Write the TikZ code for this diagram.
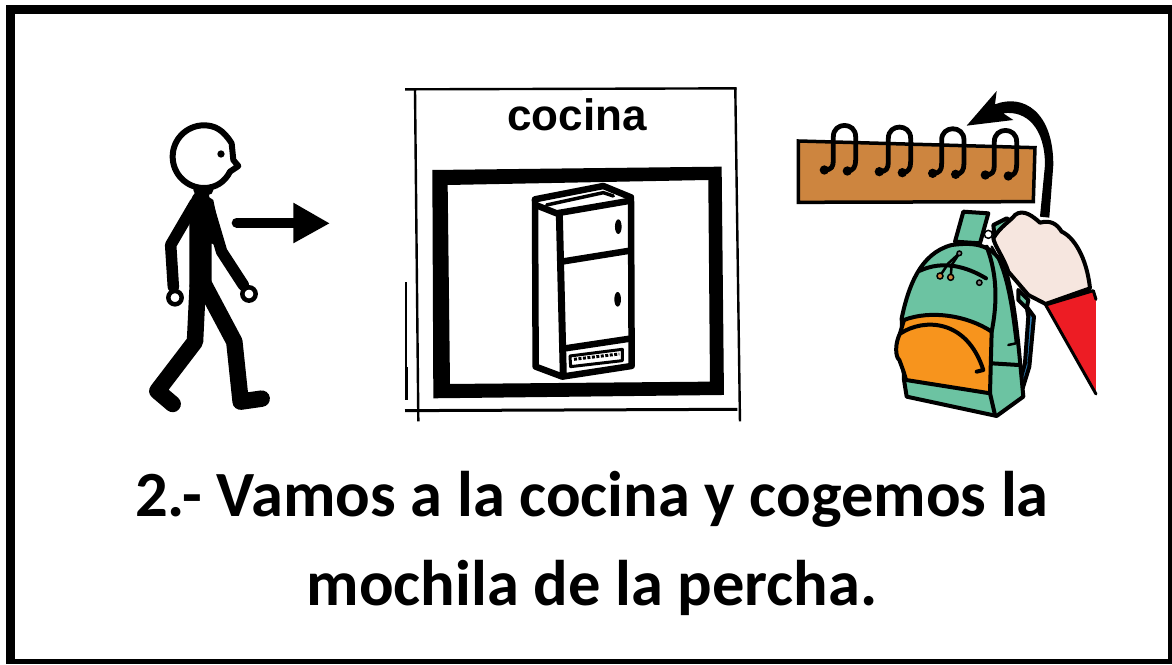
\documentclass[tikz,border=0pt]{standalone}
\usepackage{fontspec}
\setmainfont{Carlito}
\newfontfamily\helv{Liberation Sans}
\definecolor{board}{RGB}{205,133,63}
\definecolor{packgreen}{RGB}{108,195,162}
\definecolor{packorange}{RGB}{247,148,29}
\definecolor{skin}{RGB}{246,230,223}
\definecolor{sleeve}{RGB}{237,28,36}
\definecolor{strapblue}{RGB}{44,127,184}
\tikzset{
  ink/.style={draw=black,line join=round,line cap=round},
  caption/.style={font=\bfseries\fontsize{64.5}{64.5}\selectfont,inner sep=0pt,anchor=base},
  hookline/.style={ink,line width=4.8pt},
  packline/.style={ink,line width=4pt},
  cardline/.style={line width=2.4pt},
  zoomA/.style={shift={(130,110)},x=0.3333pt,y=-0.3333pt},
  zoomB/.style={shift={(400,80)},x=0.3333pt,y=-0.3333pt},
  zoomC/.style={shift={(790,85)},x=0.3333pt,y=-0.3333pt},
  zoomD/.style={shift={(880,200)},x=0.3333pt,y=-0.3333pt},
}
\begin{document}
\begin{tikzpicture}[x=1pt,y=-1pt]
\useasboundingbox (0,0) rectangle (1172,664);
\fill[white] (0,0) rectangle (1172,664);
\fill[black] (6,5) rectangle (1172,664);
\fill[white] (15,14) rectangle (1168,659);
% person
\begin{scope}[zoomA]
  \draw[ink,line width=6pt] (305,100) .. controls (280,60) and (255,46) .. (222,46)
     .. controls (170,46) and (128,88) .. (128,140) .. controls (128,192) and (170,234) .. (222,234)
     .. controls (258,234) and (285,215) .. (300,185) -- (325,168) -- (310,150) -- (305,100);
  \fill (273,132) circle (11);
  \draw[ink,line width=10pt] (205,240)--(235,240);
  \fill[black] (205,235)--(235,235)--(238,262)--(250,270)--(280,420)--(245,400)--(245,515)--(178,530)--(178,280)--(188,258)--cycle;
  \draw[ink,line width=11.5pt] (195,280) -- (122,405) -- (130,530);
  \draw[ink,line width=11.5pt] (235,290) -- (275,425) -- (340,525);
  \draw[ink,line width=4.5pt,fill=white] (135,563) circle (20);
  \draw[ink,line width=4.5pt,fill=white] (357,552) circle (20);
  \draw[ink,line width=16.5pt] (203,530) -- (195,695) -- (82,843) -- (128,882);
  \draw[ink,line width=16.5pt] (220,520) -- (313,695) -- (332,875) -- (395,866);
  \draw[ink,line width=10pt] (320,338) -- (495,338);
  \fill (490,278) -- (598,340) -- (490,400) -- cycle;
\end{scope}
% cocina card
\begin{scope}[zoomB]
  \draw[cardline] (15,28) -- (1010,25);
  \draw[cardline] (45,30) -- (55,1024);
  \draw[cardline] (1006,25) -- (1020,1024);
  \draw[line width=3pt] (15,992) -- (1012,988);
  \fill (15,605) rectangle (20,960);
  \fill (15,860) rectangle (23,960);
  \fill[even odd rule] (97,270)--(965,260)--(972,945)--(100,955)--cycle
     (143,315)--(925,300)--(930,905)--(150,912)--cycle;
  \node[font=\helv\bfseries\fontsize{44}{44}\selectfont,inner sep=0pt,anchor=base] (cocina) at (531,153) {cocina};
  \draw[ink,line width=6.5pt] (405,358)--(610,318)--(693,352)--(695,858)--(487,890)--(407,860)--cycle;
  \draw[ink,line width=6.5pt] (407,375)--(470,400)--(692,362);
  \draw[ink,line width=3.5pt] (440,375)--(610,338)--(640,348);
  \draw[ink,line width=7pt] (478,400)--(490,888);
  \draw[ink,line width=6.5pt] (485,545)--(690,512);
  \draw[ink,line width=6.5pt] (490,806)--(690,776);
  \fill (655,440) ellipse [x radius=10,y radius=22];
  \fill (653,658) ellipse [x radius=10,y radius=22];
  \draw[ink,line width=3pt] (510,828)--(667,808)--(667,842)--(512,860)--cycle;
  \draw[line width=3pt,dash pattern=on 3pt off 1.5pt] (522,838)--(658,822);
\end{scope}
% hooks board
\begin{scope}[zoomC]
  \draw[ink,line width=3.5pt,fill=board,line join=miter] (25,168)--(735,188)--(730,350)--(25,352)--cycle;
  \foreach \dx/\dy in {0/0,165/5,325/10,483/15}{
    \begin{scope}[xshift=\dx*0.3333pt,yshift=-\dy*0.3333pt]
      \draw[hookline] (103,255) .. controls (125,255) and (130,245) .. (130,225) -- (130,155)
        .. controls (130,110) and (197,110) .. (197,155) -- (197,225)
        .. controls (197,245) and (190,258) .. (172,258);
      \fill (103,255) circle (14);
      \fill (172,258) circle (14);
    \end{scope}
  }
  \fill (530,122)--(620,18)--(615,58) .. controls (700,25) and (790,80) .. (790,240)
     -- (778,398) -- (750,395) -- (765,240) .. controls (765,130) and (710,75) .. (640,85)
     -- (670,105) -- cycle;
\end{scope}
% backpack
\begin{scope}[zoomD]
  \draw[packline,fill=strapblue] (440,320)--(462,350)--(448,500)--(428,565)--(418,550)--(435,490)--(445,350)--cycle;
  \draw[packline,fill=packgreen] (415,270)--(445,300)--(440,325)--(415,300)--cycle;
  \draw[packline,fill=packgreen] (340,75)--(380,55)--(405,70)--(415,145)--(345,120)--cycle;
  \draw[packline,fill=packgreen] (225,125)--(250,35)--(325,40)--(300,130)--cycle;
  \draw[packline,fill=packgreen] (65,355) .. controls (85,260) and (120,160) .. (215,135)
     .. controls (290,125) and (340,135) .. (375,205) .. controls (405,300) and (415,430) .. (430,590)
     -- (350,648) -- (80,590) -- (72,540) -- cycle;
  \draw[packline,fill=packorange] (72,360) .. controls (150,330) and (260,345) .. (335,395)
     -- (330,580) -- (78,540) .. controls (70,510) and (65,500) .. (58,480)
     .. controls (45,470) and (45,430) .. (60,400) -- cycle;
  \draw[packline] (62,400) .. controls (130,355) and (260,355) .. (310,510) -- (290,515);
  \draw[packline] (320,140) .. controls (355,230) and (350,320) .. (335,395);
  \draw[packline] (330,580) -- (345,645);
  \draw[packline] (335,490) -- (415,495);
  \draw[packline,line width=2.5pt] (335,140) .. controls (380,210) and (395,320) .. (408,430) -- (385,435);
  \draw[packline] (120,212) .. controls (190,180) and (260,200) .. (318,235);
  \draw[packline,line width=2.5pt] (238,160) -- (205,190) -- (180,228);
  \draw[packline,line width=2.5pt] (238,160) -- (215,195) -- (212,232);
  \draw[line width=1.5pt,fill=board] (180,228) circle (9);
  \draw[line width=1.5pt,fill=board] (212,232) circle (9);
  \draw[line width=1.5pt,fill=gray] (298,248) circle (8);
  \draw[line width=1.5pt,fill=gray] (238,160) circle (7);
  \draw[packline,fill=skin] (340,115) .. controls (360,80) and (395,60) .. (405,45)
     .. controls (430,25) and (460,50) .. (480,68) .. controls (510,60) and (530,70) .. (545,95)
     .. controls (580,110) and (620,170) .. (630,265) -- (497,312) -- (445,285)
     -- (385,215) .. controls (370,170) and (345,140) .. (340,115) -- cycle;
  \draw[line width=1.5pt,fill=white] (325,103) circle (12);
  \fill[sleeve] (497,315)--(640,272)--(648,300)--(648,582)--cycle;
  \draw[packline,line width=3pt] (648,582)--(497,315)--(640,272)--(648,298);
\end{scope}
% caption
\node[caption] (line1) at (592,516) {2.- Vamos a la cocina y cogemos la};
\node[caption] (line2) at (592,605) {mochila de la percha.};
\end{tikzpicture}
\end{document}
